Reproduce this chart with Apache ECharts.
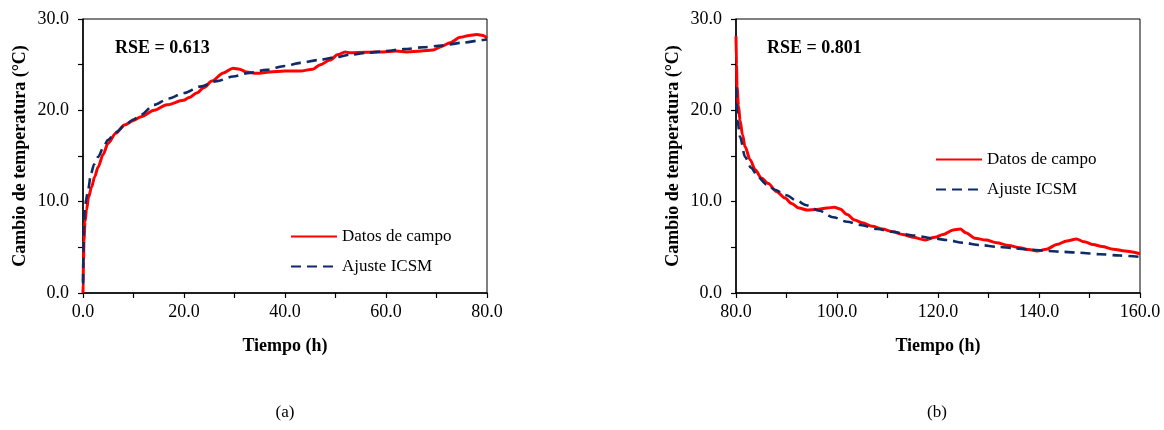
<!DOCTYPE html>
<html>
<head>
<meta charset="utf-8">
<script src="https://cdn.jsdelivr.net/npm/echarts@6/dist/echarts.min.js"></script>
<style>
html,body{margin:0;padding:0;background:#fff;}
#chart{width:1164px;height:430px;}
</style>
</head>
<body>
<div id="chart"></div>
<script>
// ---- Data ----
const seriesNames = ['Datos de campo', 'Ajuste ICSM'];
const yAxisTitle = 'Cambio de temperatura (°C)';
const xAxisTitle = 'Tiempo (h)';
const panelLabels = ['(a)', '(b)'];
const rseLabels = ['RSE = 0.613', 'RSE = 0.801'];

// Panel (a): 0-80 h
const fieldA = [[0,0],[0.02,1.1],[0.1,3.5],[0.2,5.8],[0.4,7.8],[0.7,9.1],[1.1,10.5],[1.7,11.6],[2.3,12.7],[3,13.8],[4,15.2],[4.95,16.4],[6.5,17.5],[8.2,18.4],[10,18.9],[11.5,19.3],[14.1,20.0],[16.6,20.6],[19.9,21.1],[21,21.4],[22.5,21.9],[24,22.5],[25.5,23.2],[27.8,24.1],[29.7,24.6],[31,24.5],[32.4,24.2],[34.4,24.05],[37,24.2],[40,24.3],[43,24.3],[45.5,24.5],[47,25],[48.9,25.5],[50.5,26.1],[51.9,26.4],[52.9,26.3],[56,26.35],[59.4,26.4],[62,26.5],[64.1,26.4],[67,26.5],[69.3,26.6],[71,27.0],[72.7,27.4],[74.7,28.0],[76.5,28.2],[78,28.3],[79.2,28.2],[80,27.9]];
const fitA = [[0.02,1],[0.08,4.5],[0.15,6.9],[0.33,8.7],[0.6,10.2],[1,11.3],[1.6,13.1],[2.2,14.1],[3,14.9],[4,15.9],[4.9,16.75],[6.5,17.6],[8.2,18.3],[10,19.0],[11.4,19.5],[14.1,20.6],[17,21.3],[20,21.9],[23.2,22.6],[26.5,23.2],[29.7,23.7],[33,24.1],[36.4,24.45],[40,24.85],[43,25.2],[46.5,25.5],[50,25.8],[52.9,26.1],[56.5,26.3],[60,26.5],[63.5,26.7],[67.4,26.9],[71,27.1],[75,27.4],[79.3,27.7],[80,27.75]];

// Panel (b): 80-160 h
const fieldB = [[80,28.1],[80.1,25],[80.2,22.6],[80.5,20.5],[80.8,18.9],[81.3,17.3],[81.8,16.0],[82.8,14.6],[83.8,13.5],[85,12.6],[86.4,12.0],[88,11.1],[89.7,10.4],[91,9.8],[92.5,9.3],[94,9.1],[96,9.15],[98,9.3],[99.5,9.4],[100.6,9.2],[102,8.6],[103.5,8.0],[105,7.7],[107,7.3],[109,7.0],[111,6.7],[113,6.4],[115,6.1],[117.5,5.8],[119.4,6.1],[121,6.4],[123,6.9],[124.4,7.0],[125.5,6.6],[127.3,6.0],[129.5,5.8],[131.6,5.5],[134,5.2],[136.2,4.95],[138,4.75],[139.6,4.6],[141.5,4.8],[143.5,5.3],[145.5,5.7],[147.4,5.9],[149,5.6],[150.7,5.3],[152.5,5.1],[154.7,4.8],[157,4.6],[160,4.3]];
const fitB = [[80.05,22.5],[80.3,18.9],[80.8,17.1],[81.8,14.9],[83,13.7],[84.4,12.7],[86,11.9],[87.7,11.3],[90,10.7],[92,10.1],[94,9.6],[96.5,9.0],[99.2,8.3],[102,7.8],[104.6,7.45],[108,7.0],[111,6.7],[115,6.3],[119,6.0],[121.8,5.8],[125,5.5],[128.3,5.25],[132,5.05],[135,4.9],[138.2,4.75],[142,4.6],[145,4.5],[148.1,4.4],[152,4.25],[156,4.1],[160,3.95]];

// ---- Styles ----
const FONT = '"Liberation Serif","Times New Roman",serif';
const RED = '#ff0000';
const NAVY = '#0d2b66';

function xAxis(gridIndex, min, max) {
  return {
    type: 'value', gridIndex, min, max, interval: 20,
    name: xAxisTitle, nameLocation: 'middle', nameGap: 44,
    nameTextStyle: {fontFamily: FONT, fontSize: 18, fontWeight: 'bold', color: '#000'},
    axisLine: {show: true, lineStyle: {color: '#000', width: 1.5}},
    axisTick: {show: true, inside: false, length: 5, lineStyle: {color: '#000', width: 1.2}},
    minorTick: {show: true, splitNumber: 2, length: 5, lineStyle: {color: '#000', width: 1.2}},
    axisLabel: {fontFamily: FONT, fontSize: 18, color: '#000', margin: 10, formatter: v => v.toFixed(1)},
    splitLine: {show: false}
  };
}
function yAxis(gridIndex) {
  return {
    type: 'value', gridIndex, min: 0, max: 30, interval: 10,
    name: yAxisTitle, nameLocation: 'middle', nameGap: 54, nameRotate: 90,
    nameTextStyle: {fontFamily: FONT, fontSize: 18, fontWeight: 'bold', color: '#000'},
    axisLine: {show: true, lineStyle: {color: '#000', width: 1.5}},
    axisTick: {show: true, inside: false, length: 5, lineStyle: {color: '#000', width: 1.2}},
    minorTick: {show: true, splitNumber: 2, length: 5, lineStyle: {color: '#000', width: 1.2}},
    axisLabel: {fontFamily: FONT, fontSize: 18, color: '#000', margin: 14, formatter: v => v.toFixed(1)},
    splitLine: {show: false}
  };
}
function lineSeries(name, data, idx, dashed) {
  return {
    name, type: 'line', data, xAxisIndex: idx, yAxisIndex: idx,
    showSymbol: false, symbol: 'none', smooth: 0.3, smoothMonotone: 'x',
    lineStyle: dashed ? {color: NAVY, width: 2.6, type: [10, 6]} : {color: RED, width: 3},
    itemStyle: {color: dashed ? NAVY : RED},
    z: dashed ? 3 : 2, animation: false
  };
}
function legend(left, top) {
  return {
    orient: 'vertical', left, top, itemWidth: 46, itemHeight: 14, itemGap: 13,
    selectedMode: false, data: seriesNames,
    itemStyle: {opacity: 0},
    textStyle: {fontFamily: FONT, fontSize: 17, color: '#000'}
  };
}

const chart = echarts.init(document.getElementById('chart'), null, {renderer: 'canvas'});
chart.setOption({
  animation: false,
  backgroundColor: '#fff',
  grid: [
    {left: 83, top: 19, width: 404, height: 274, show: true, borderColor: '#000', borderWidth: 1},
    {left: 736, top: 19, width: 404, height: 274, show: true, borderColor: '#000', borderWidth: 1}
  ],
  xAxis: [xAxis(0, 0, 80), xAxis(1, 80, 160)],
  yAxis: [yAxis(0), yAxis(1)],
  legend: [legend(285, 223), legend(930, 146)],
  series: [
    lineSeries(seriesNames[0], fieldA, 0, false),
    lineSeries(seriesNames[1], fitA, 0, true),
    lineSeries(seriesNames[0], fieldB, 1, false),
    lineSeries(seriesNames[1], fitB, 1, true)
  ],
  graphic: [
    {type: 'text', left: 115, top: 39, style: {text: rseLabels[0], font: 'bold 18px ' + FONT, fill: '#000'}},
    {type: 'text', left: 767, top: 39, style: {text: rseLabels[1], font: 'bold 18px ' + FONT, fill: '#000'}},
    {type: 'text', x: 285, y: 413, style: {text: panelLabels[0], font: '17px ' + FONT, fill: '#000', align: 'center', verticalAlign: 'middle'}},
    {type: 'text', x: 937, y: 413, style: {text: panelLabels[1], font: '17px ' + FONT, fill: '#000', align: 'center', verticalAlign: 'middle'}}
  ]
});
</script>
</body>
</html>
